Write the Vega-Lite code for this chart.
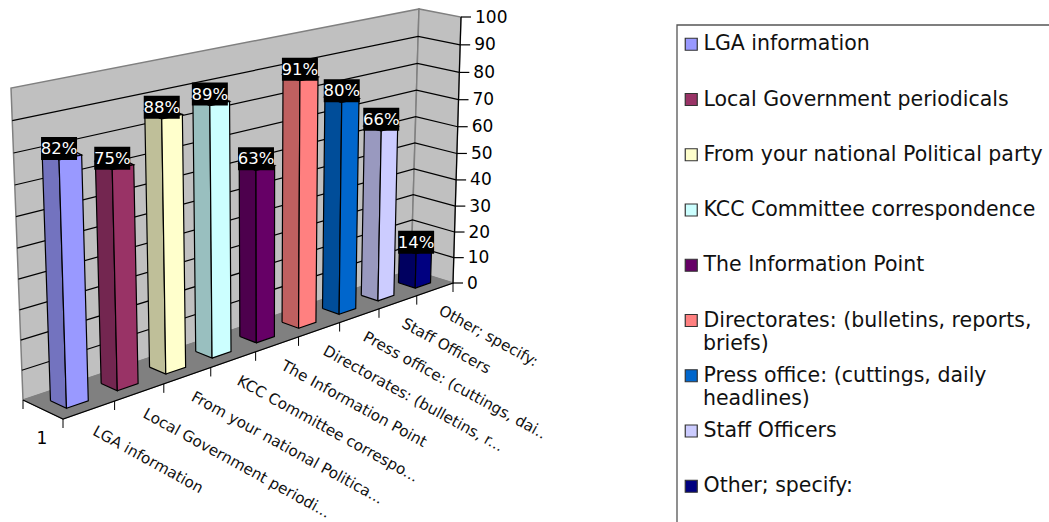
{
"$schema":"https://vega.github.io/schema/vega-lite/v6.json",
"width":1049,"height":522,"padding":0,"autosize":"none","background":"white",
"config":{"view":{"stroke":null},"font":"DejaVu Sans"},
"datasets":{
"answers":[
{"i":0,"category":"LGA information","short":"LGA information","value":82},
{"i":1,"category":"Local Government periodicals","short":"Local Government periodi...","value":75},
{"i":2,"category":"From your national Political party","short":"From your national Politica...","value":88},
{"i":3,"category":"KCC Committee correspondence","short":"KCC Committee correspo...","value":89},
{"i":4,"category":"The Information Point","short":"The Information Point","value":63},
{"i":5,"category":"Directorates: (bulletins, reports, briefs)","short":"Directorates: (bulletins, r...","value":91},
{"i":6,"category":"Press office: (cuttings, daily headlines)","short":"Press office: (cuttings, dai..","value":80},
{"i":7,"category":"Staff Officers","short":"Staff Officers","value":66},
{"i":8,"category":"Other; specify:","short":"Other; specify:","value":14}],
"ticks":[{"v":0},{"v":10},{"v":20},{"v":30},{"v":40},{"v":50},{"v":60},{"v":70},{"v":80},{"v":90},{"v":100}],
"seps":[{"i":0},{"i":1},{"i":2},{"i":3},{"i":4},{"i":5},{"i":6},{"i":7},{"i":8},{"i":9}],
"planes":[
{"plane":"back","k":0,"s":0,"d":1,"v":0},{"plane":"back","k":1,"s":1,"d":1,"v":0},{"plane":"back","k":2,"s":1,"d":1,"v":100},{"plane":"back","k":3,"s":0,"d":1,"v":100},{"plane":"back","k":4,"s":0,"d":1,"v":0},
{"plane":"side","k":0,"s":1,"d":1,"v":0},{"plane":"side","k":1,"s":1,"d":0,"v":0},{"plane":"side","k":2,"s":1,"d":0,"v":100},{"plane":"side","k":3,"s":1,"d":1,"v":100},{"plane":"side","k":4,"s":1,"d":1,"v":0},
{"plane":"floor","k":0,"s":0,"d":1,"v":0},{"plane":"floor","k":1,"s":1,"d":1,"v":0},{"plane":"floor","k":2,"s":1,"d":0,"v":0},{"plane":"floor","k":3,"s":0,"d":0,"v":0},{"plane":"floor","k":4,"s":0,"d":1,"v":0},
{"plane":"edge","k":0,"s":0,"d":1,"v":0},{"plane":"edge","k":1,"s":0,"d":0,"v":0},{"plane":"edge","k":2,"s":1,"d":0,"v":0},{"plane":"edge","k":3,"s":1,"d":0,"v":100}]
},
"resolve":{"scale":{"fill":"independent"}},
"layer":[
{"data":{"values":[{"box":"legend"}]},
 "mark":{"type":"rect","fill":"white","stroke":"#555555","strokeWidth":1.3},
 "encoding":{"x":{"datum":677,"type":"quantitative","scale":{"domain":[0,1049],"range":[0,1049]},"axis":null},"x2":{"datum":1120},"y":{"datum":25,"type":"quantitative","scale":{"domain":[0,522],"range":[0,522]},"axis":null},"y2":{"datum":560}}},
{"data":{"values":[{"wrapped":"briefs)"}]},
 "mark":{"type":"text","align":"left","baseline":"middle","fontSize":20.5,"font":"DejaVu Sans","color":"#111111"},
 "encoding":{"x":{"datum":703,"type":"quantitative","scale":{"domain":[0,1049],"range":[0,1049]},"axis":null},"y":{"datum":344,"type":"quantitative","scale":{"domain":[0,522],"range":[0,522]},"axis":null},"text":{"field":"wrapped"}}},
{"data":{"values":[{"wrapped":"headlines)"}]},
 "mark":{"type":"text","align":"left","baseline":"middle","fontSize":20.5,"font":"DejaVu Sans","color":"#111111"},
 "encoding":{"x":{"datum":703,"type":"quantitative","scale":{"domain":[0,1049],"range":[0,1049]},"axis":null},"y":{"datum":399,"type":"quantitative","scale":{"domain":[0,522],"range":[0,522]},"axis":null},"text":{"field":"wrapped"}}},
{"data":{"name":"planes"},
 "transform":[{"filter":"datum.plane=='back'||datum.plane=='side'"},
  {"calculate":"datum.s*1.22/(1+0.22*datum.s)","as":"tau"},
  {"calculate":"63+390*datum.tau-40*datum.d-2*datum.tau*datum.d","as":"bx"},
  {"calculate":"419-136*datum.tau-19*datum.d+6*datum.tau*datum.d","as":"by"},
  {"calculate":"54+407*datum.tau-43*datum.d+datum.tau*datum.d","as":"tx"},
  {"calculate":"113-96*datum.tau-25*datum.d+17*datum.tau*datum.d","as":"ty"},
  {"calculate":"0.00948*datum.v+0.0000052*datum.v*datum.v","as":"f"},
  {"calculate":"datum.bx+datum.f*(datum.tx-datum.bx)","as":"px"},
  {"calculate":"datum.by+datum.f*(datum.ty-datum.by)","as":"py"}],
 "mark":{"type":"line","fill":"#C0C0C0","stroke":"#808080","strokeWidth":1.5},
 "encoding":{"x":{"field":"px","type":"quantitative","scale":{"domain":[0,1049],"range":[0,1049]},"axis":null},"y":{"field":"py","type":"quantitative","scale":{"domain":[0,522],"range":[0,522]},"axis":null},"detail":{"field":"plane"},"order":{"field":"k"}}},
{"data":{"name":"planes"},
 "transform":[{"filter":"datum.plane=='floor'"},
  {"calculate":"datum.s*1.22/(1+0.22*datum.s)","as":"tau"},
  {"calculate":"63+390*datum.tau-40*datum.d-2*datum.tau*datum.d","as":"px"},
  {"calculate":"419-136*datum.tau-19*datum.d+6*datum.tau*datum.d","as":"py"}],
 "mark":{"type":"line","fill":"#808080","stroke":"#808080","strokeWidth":1},
 "encoding":{"x":{"field":"px","type":"quantitative","scale":{"domain":[0,1049],"range":[0,1049]},"axis":null},"y":{"field":"py","type":"quantitative","scale":{"domain":[0,522],"range":[0,522]},"axis":null},"order":{"field":"k"}}},
{"data":{"name":"ticks"},
 "transform":[{"filter":"datum.v>0&&datum.v<100"},
  {"calculate":"[0,1,2]","as":"k"},{"flatten":["k"]},
  {"calculate":"datum.k==0?0:1","as":"s"},{"calculate":"datum.k==2?0:1","as":"d"},
  {"calculate":"datum.s*1.22/(1+0.22*datum.s)","as":"tau"},
  {"calculate":"63+390*datum.tau-40*datum.d-2*datum.tau*datum.d","as":"bx"},
  {"calculate":"419-136*datum.tau-19*datum.d+6*datum.tau*datum.d","as":"by"},
  {"calculate":"54+407*datum.tau-43*datum.d+datum.tau*datum.d","as":"tx"},
  {"calculate":"113-96*datum.tau-25*datum.d+17*datum.tau*datum.d","as":"ty"},
  {"calculate":"0.00948*datum.v+0.0000052*datum.v*datum.v","as":"f"},
  {"calculate":"datum.bx+datum.f*(datum.tx-datum.bx)","as":"px"},
  {"calculate":"datum.by+datum.f*(datum.ty-datum.by)","as":"py"}],
 "mark":{"type":"line","stroke":"black","strokeWidth":1.2},
 "encoding":{"x":{"field":"px","type":"quantitative","scale":{"domain":[0,1049],"range":[0,1049]},"axis":null},"y":{"field":"py","type":"quantitative","scale":{"domain":[0,522],"range":[0,522]},"axis":null},"detail":{"field":"v"},"order":{"field":"k"}}},
{"data":{"name":"planes"},
 "transform":[{"filter":"datum.plane=='edge'"},
  {"calculate":"datum.s*1.22/(1+0.22*datum.s)","as":"tau"},
  {"calculate":"63+390*datum.tau-40*datum.d-2*datum.tau*datum.d","as":"bx"},
  {"calculate":"419-136*datum.tau-19*datum.d+6*datum.tau*datum.d","as":"by"},
  {"calculate":"54+407*datum.tau-43*datum.d+datum.tau*datum.d","as":"tx"},
  {"calculate":"113-96*datum.tau-25*datum.d+17*datum.tau*datum.d","as":"ty"},
  {"calculate":"0.00948*datum.v+0.0000052*datum.v*datum.v","as":"f"},
  {"calculate":"datum.bx+datum.f*(datum.tx-datum.bx)","as":"px"},
  {"calculate":"datum.by+datum.f*(datum.ty-datum.by)","as":"py"}],
 "mark":{"type":"line","stroke":"black","strokeWidth":1.2},
 "encoding":{"x":{"field":"px","type":"quantitative","scale":{"domain":[0,1049],"range":[0,1049]},"axis":null},"y":{"field":"py","type":"quantitative","scale":{"domain":[0,522],"range":[0,522]},"axis":null},"order":{"field":"k"}}},
{"data":{"name":"ticks"},
 "transform":[
  {"calculate":"0.00948*datum.v+0.0000052*datum.v*datum.v","as":"f"},
  {"calculate":"453+datum.f*8","as":"px"},{"calculate":"283-datum.f*266","as":"py"},{"calculate":"datum.px+10","as":"px2"}],
 "mark":{"type":"rule","stroke":"black","strokeWidth":1.2},
 "encoding":{"x":{"field":"px","type":"quantitative","scale":{"domain":[0,1049],"range":[0,1049]},"axis":null},"x2":{"field":"px2"},"y":{"field":"py","type":"quantitative","scale":{"domain":[0,522],"range":[0,522]},"axis":null}}},
{"data":{"name":"ticks"},
 "transform":[
  {"calculate":"0.00948*datum.v+0.0000052*datum.v*datum.v","as":"f"},
  {"calculate":"453+datum.f*8+14","as":"px"},{"calculate":"283.5-datum.f*266","as":"py"}],
 "mark":{"type":"text","align":"left","baseline":"middle","fontSize":17,"font":"DejaVu Sans","color":"black"},
 "encoding":{"x":{"field":"px","type":"quantitative","scale":{"domain":[0,1049],"range":[0,1049]},"axis":null},"y":{"field":"py","type":"quantitative","scale":{"domain":[0,522],"range":[0,522]},"axis":null},"text":{"field":"v","type":"nominal"}}},
{"data":{"name":"seps"},
 "transform":[{"calculate":"datum.i/9","as":"s"},
  {"calculate":"datum.s*1.22/(1+0.22*datum.s)","as":"tau"},
  {"calculate":"63+390*datum.tau","as":"px"},{"calculate":"419-136*datum.tau","as":"py"},{"calculate":"datum.py+9","as":"py2"}],
 "mark":{"type":"rule","stroke":"black","strokeWidth":1},
 "encoding":{"x":{"field":"px","type":"quantitative","scale":{"domain":[0,1049],"range":[0,1049]},"axis":null},"y":{"field":"py","type":"quantitative","scale":{"domain":[0,522],"range":[0,522]},"axis":null},"y2":{"field":"py2"}}},
{"data":{"values":[{"series":"1"}]},
 "mark":{"type":"rule","stroke":"black","strokeWidth":1},
 "encoding":{"x":{"datum":23,"type":"quantitative","scale":{"domain":[0,1049],"range":[0,1049]},"axis":null},"y":{"datum":400,"type":"quantitative","scale":{"domain":[0,522],"range":[0,522]},"axis":null},"y2":{"datum":409}}},
{"data":{"values":[{"series":"1"}]},
 "mark":{"type":"text","align":"center","baseline":"middle","fontSize":17,"font":"DejaVu Sans","color":"black"},
 "encoding":{"x":{"datum":42,"type":"quantitative","scale":{"domain":[0,1049],"range":[0,1049]},"axis":null},"y":{"datum":439,"type":"quantitative","scale":{"domain":[0,522],"range":[0,522]},"axis":null},"text":{"field":"series"}}},
{"data":{"name":"answers"},
 "transform":[
  {"calculate":"[0,1,2,3,4]","as":"k"},{"flatten":["k"]},
  {"calculate":"datum.i/9+0.032","as":"s"},
  {"calculate":"(datum.k%4==0||datum.k==3)?0.69:0.29","as":"d"},
  {"calculate":"(datum.k%4)<2?0:datum.value","as":"v"},
  {"calculate":"datum.s*1.22/(1+0.22*datum.s)","as":"tau"},
  {"calculate":"63+390*datum.tau-40*datum.d-2*datum.tau*datum.d","as":"bx"},
  {"calculate":"419-136*datum.tau-19*datum.d+6*datum.tau*datum.d","as":"by"},
  {"calculate":"54+407*datum.tau-43*datum.d+datum.tau*datum.d","as":"tx"},
  {"calculate":"113-85*datum.tau-25*datum.d+17*datum.tau*datum.d","as":"ty"},
  {"calculate":"0.00948*datum.v+0.0000052*datum.v*datum.v","as":"f"},
  {"calculate":"datum.bx+datum.f*(datum.tx-datum.bx)","as":"px"},
  {"calculate":"datum.by+datum.f*(datum.ty-datum.by)","as":"py"}],
 "mark":{"type":"line","stroke":"black","strokeWidth":1.2},
 "encoding":{"x":{"field":"px","type":"quantitative","scale":{"domain":[0,1049],"range":[0,1049]},"axis":null},"y":{"field":"py","type":"quantitative","scale":{"domain":[0,522],"range":[0,522]},"axis":null},"order":{"field":"k"},
  "fill":{"field":"category","type":"nominal","legend":null,"scale":{"domain":["LGA information","Local Government periodicals","From your national Political party","KCC Committee correspondence","The Information Point","Directorates: (bulletins, reports, briefs)","Press office: (cuttings, daily headlines)","Staff Officers","Other; specify:"],"range":["#7373BF","#732650","#BFBF99","#99BFBF","#4D004D","#BF6060","#004D99","#9999BF","#000060"]}}}},
{"data":{"name":"answers"},
 "transform":[
  {"calculate":"[0,1,2,3,4]","as":"k"},{"flatten":["k"]},
  {"calculate":"datum.i/9+((datum.k==1||datum.k==2)?0.079:0.032)","as":"s"},
  {"calculate":"(datum.k==2||datum.k==3)?0.69:0.29","as":"d"},
  {"calculate":"datum.value","as":"v"},
  {"calculate":"datum.s*1.22/(1+0.22*datum.s)","as":"tau"},
  {"calculate":"63+390*datum.tau-40*datum.d-2*datum.tau*datum.d","as":"bx"},
  {"calculate":"419-136*datum.tau-19*datum.d+6*datum.tau*datum.d","as":"by"},
  {"calculate":"54+407*datum.tau-43*datum.d+datum.tau*datum.d","as":"tx"},
  {"calculate":"113-85*datum.tau-25*datum.d+17*datum.tau*datum.d","as":"ty"},
  {"calculate":"0.00948*datum.v+0.0000052*datum.v*datum.v","as":"f"},
  {"calculate":"datum.bx+datum.f*(datum.tx-datum.bx)","as":"px"},
  {"calculate":"datum.by+datum.f*(datum.ty-datum.by)","as":"py"}],
 "mark":{"type":"line","stroke":"black","strokeWidth":1.2},
 "encoding":{"x":{"field":"px","type":"quantitative","scale":{"domain":[0,1049],"range":[0,1049]},"axis":null},"y":{"field":"py","type":"quantitative","scale":{"domain":[0,522],"range":[0,522]},"axis":null},"order":{"field":"k"},
  "fill":{"field":"category","type":"nominal","legend":null,"scale":{"domain":["LGA information","Local Government periodicals","From your national Political party","KCC Committee correspondence","The Information Point","Directorates: (bulletins, reports, briefs)","Press office: (cuttings, daily headlines)","Staff Officers","Other; specify:"],"range":["#7373BF","#732650","#BFBF99","#99BFBF","#4D004D","#BF6060","#004D99","#9999BF","#000060"]}}}},
{"data":{"name":"answers"},
 "transform":[
  {"calculate":"[0,1,2,3,4]","as":"k"},{"flatten":["k"]},
  {"calculate":"datum.i/9+((datum.k==1||datum.k==2)?0.079:0.032)","as":"s"},
  {"calculate":"0.29","as":"d"},
  {"calculate":"(datum.k%4)<2?0:datum.value","as":"v"},
  {"calculate":"datum.s*1.22/(1+0.22*datum.s)","as":"tau"},
  {"calculate":"63+390*datum.tau-40*datum.d-2*datum.tau*datum.d","as":"bx"},
  {"calculate":"419-136*datum.tau-19*datum.d+6*datum.tau*datum.d","as":"by"},
  {"calculate":"54+407*datum.tau-43*datum.d+datum.tau*datum.d","as":"tx"},
  {"calculate":"113-85*datum.tau-25*datum.d+17*datum.tau*datum.d","as":"ty"},
  {"calculate":"0.00948*datum.v+0.0000052*datum.v*datum.v","as":"f"},
  {"calculate":"datum.bx+datum.f*(datum.tx-datum.bx)","as":"px"},
  {"calculate":"datum.by+datum.f*(datum.ty-datum.by)","as":"py"}],
 "mark":{"type":"line","stroke":"black","strokeWidth":1.2},
 "encoding":{"x":{"field":"px","type":"quantitative","scale":{"domain":[0,1049],"range":[0,1049]},"axis":null},"y":{"field":"py","type":"quantitative","scale":{"domain":[0,522],"range":[0,522]},"axis":null},"order":{"field":"k"},
  "fill":{"field":"category","type":"nominal","scale":{"domain":["LGA information","Local Government periodicals","From your national Political party","KCC Committee correspondence","The Information Point","Directorates: (bulletins, reports, briefs)","Press office: (cuttings, daily headlines)","Staff Officers","Other; specify:"],"range":["#9999FF","#993366","#FFFFCC","#CCFFFF","#660066","#FF8080","#0066CC","#CCCCFF","#000080"]},
  "legend":{"title":null,"orient":"none","legendX":676,"legendY":29,"symbolType":"square","symbolSize":144,"symbolStrokeColor":"#333333","symbolStrokeWidth":1.2,"symbolOpacity":1,"labelFont":"DejaVu Sans","labelFontSize":20.5,"labelColor":"#111111","labelLimit":1000,"labelOffset":2,"rowPadding":34.25,"padding":5,"labelExpr":"datum.label=='Directorates: (bulletins, reports, briefs)'?'Directorates: (bulletins, reports,':datum.label=='Press office: (cuttings, daily headlines)'?'Press office: (cuttings, daily':datum.label","sort":null}}}},
{"data":{"name":"answers"},
 "transform":[
  {"calculate":"datum.i/9+0.032","as":"s"},{"calculate":"0.29","as":"d"},{"calculate":"datum.value","as":"v"},
  {"calculate":"datum.s*1.22/(1+0.22*datum.s)","as":"tau"},
  {"calculate":"63+390*datum.tau-40*datum.d-2*datum.tau*datum.d","as":"bx"},
  {"calculate":"419-136*datum.tau-19*datum.d+6*datum.tau*datum.d","as":"by"},
  {"calculate":"54+407*datum.tau-43*datum.d+datum.tau*datum.d","as":"tx"},
  {"calculate":"113-85*datum.tau-25*datum.d+17*datum.tau*datum.d","as":"ty"},
  {"calculate":"0.00948*datum.v+0.0000052*datum.v*datum.v","as":"f"},
  {"calculate":"datum.bx+datum.f*(datum.tx-datum.bx)","as":"px"},
  {"calculate":"datum.by+datum.f*(datum.ty-datum.by)","as":"py"},
  {"calculate":"datum.px-18","as":"lx"},{"calculate":"datum.px+18","as":"rx"},{"calculate":"datum.py-23","as":"ty2"}],
 "mark":{"type":"rect","fill":"black"},
 "encoding":{"x":{"field":"lx","type":"quantitative","scale":{"domain":[0,1049],"range":[0,1049]},"axis":null},"x2":{"field":"rx"},"y":{"field":"py","type":"quantitative","scale":{"domain":[0,522],"range":[0,522]},"axis":null},"y2":{"field":"ty2"}}},
{"data":{"name":"answers"},
 "transform":[
  {"calculate":"datum.i/9+0.032","as":"s"},{"calculate":"0.29","as":"d"},{"calculate":"datum.value","as":"v"},
  {"calculate":"datum.s*1.22/(1+0.22*datum.s)","as":"tau"},
  {"calculate":"63+390*datum.tau-40*datum.d-2*datum.tau*datum.d","as":"bx"},
  {"calculate":"419-136*datum.tau-19*datum.d+6*datum.tau*datum.d","as":"by"},
  {"calculate":"54+407*datum.tau-43*datum.d+datum.tau*datum.d","as":"tx"},
  {"calculate":"113-85*datum.tau-25*datum.d+17*datum.tau*datum.d","as":"ty"},
  {"calculate":"0.00948*datum.v+0.0000052*datum.v*datum.v","as":"f"},
  {"calculate":"datum.bx+datum.f*(datum.tx-datum.bx)","as":"px"},
  {"calculate":"datum.by+datum.f*(datum.ty-datum.by)-11","as":"py"},
  {"calculate":"datum.value+'%'","as":"pct"}],
 "mark":{"type":"text","align":"center","baseline":"middle","fontSize":16.5,"font":"DejaVu Sans","color":"white"},
 "encoding":{"x":{"field":"px","type":"quantitative","scale":{"domain":[0,1049],"range":[0,1049]},"axis":null},"y":{"field":"py","type":"quantitative","scale":{"domain":[0,522],"range":[0,522]},"axis":null},"text":{"field":"pct"}}},
{"data":{"name":"answers"},
 "transform":[
  {"calculate":"(datum.i+0.5)/9","as":"s"},
  {"calculate":"datum.s*1.22/(1+0.22*datum.s)","as":"tau"},
  {"calculate":"63+390*datum.tau+5","as":"px"},{"calculate":"419-136*datum.tau+20","as":"py"}],
 "mark":{"type":"text","align":"left","baseline":"middle","fontSize":15.2,"angle":28.8,"font":"DejaVu Sans","color":"#111111"},
 "encoding":{"x":{"field":"px","type":"quantitative","scale":{"domain":[0,1049],"range":[0,1049]},"axis":null},"y":{"field":"py","type":"quantitative","scale":{"domain":[0,522],"range":[0,522]},"axis":null},"text":{"field":"short"}}}
]
}
